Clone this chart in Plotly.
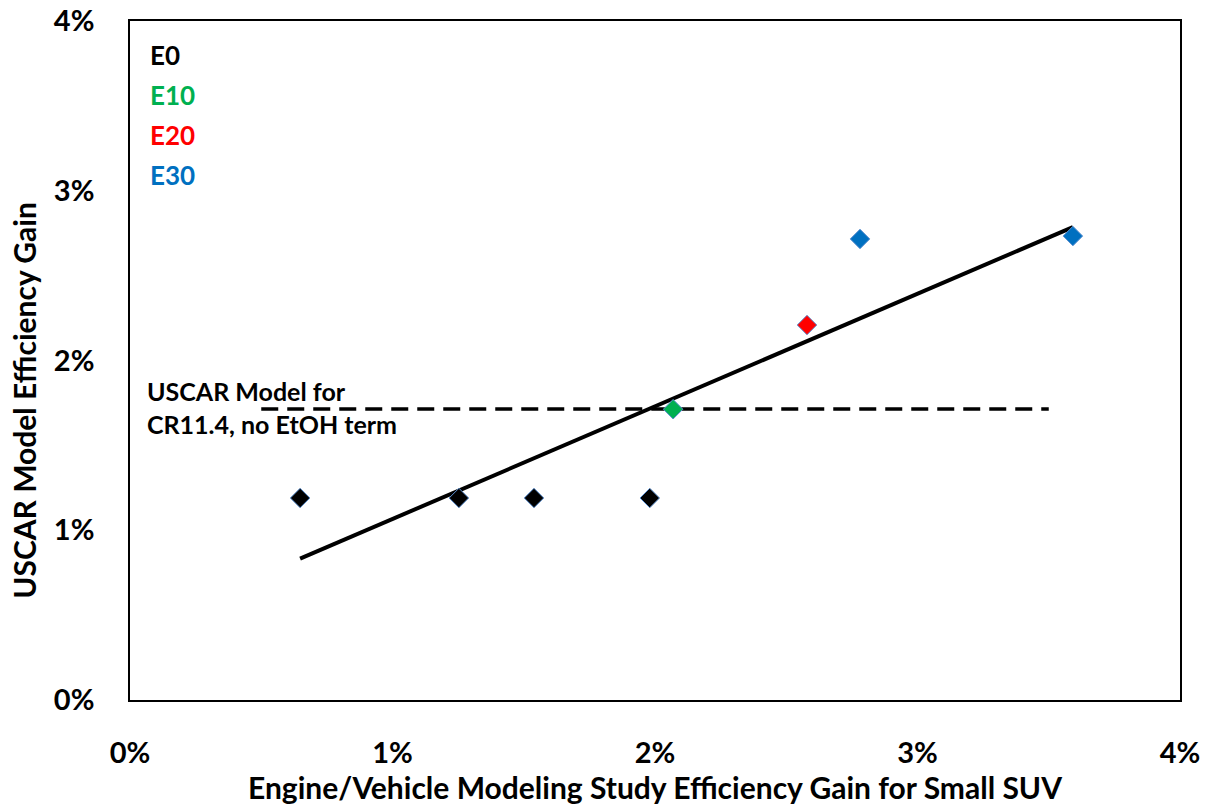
import numpy as np
import plotly.graph_objects as go

# Data (percent)
e0_x = [0.648, 1.253, 1.539, 1.98]
e0_y = [1.19, 1.19, 1.19, 1.19]
e10_x = [2.069]
e10_y = [1.713]
e20_x = [2.579]
e20_y = [2.209]
e30_x = [2.781, 3.592]
e30_y = [2.716, 2.733]
uscar_x = [0.5, 3.5]
uscar_y = [1.715, 1.715]

legend_labels = ["E0", "E10", "E20", "E30"]
legend_colors = ["#000000", "#00B050", "#FF0000", "#0070C0"]
x_ticks = [0, 1, 2, 3, 4]
y_ticks = [0, 1, 2, 3, 4]
x_tick_text = ["0%", "1%", "2%", "3%", "4%"]
y_tick_text = ["0%", "1%", "2%", "3%", "4%"]

all_x = np.array(e0_x + e10_x + e20_x + e30_x)
all_y = np.array(e0_y + e10_y + e20_y + e30_y)
slope, intercept = np.polyfit(all_x, all_y, 1)
trend_x = np.array([all_x.min(), all_x.max()])
trend_y = slope * trend_x + intercept

FONT = "Lato"
fig = go.Figure()

fig.add_trace(go.Scatter(x=uscar_x, y=uscar_y, mode="lines",
                         line=dict(color="black", width=3.5, dash="17px,9px"),
                         showlegend=False, hoverinfo="skip"))
fig.add_trace(go.Scatter(x=trend_x, y=trend_y, mode="lines",
                         line=dict(color="black", width=4),
                         showlegend=False, hoverinfo="skip"))

marker_line = dict(color="#5B8FD0", width=1)
for xs, ys, col in [(e0_x, e0_y, legend_colors[0]), (e10_x, e10_y, legend_colors[1]),
                    (e20_x, e20_y, legend_colors[2]), (e30_x, e30_y, legend_colors[3])]:
    fig.add_trace(go.Scatter(x=xs, y=ys, mode="markers",
                             marker=dict(symbol="diamond", size=15, color=col, line=marker_line),
                             showlegend=False))

for i, (lab, col) in enumerate(zip(legend_labels, legend_colors)):
    fig.add_annotation(xref="paper", yref="paper", x=0.017, y=0.95 - i * 0.059,
                       text=f"<b>{lab}</b>", showarrow=False, xanchor="left", yanchor="middle",
                       font=dict(family=FONT, size=26, color=col))

fig.add_annotation(xref="paper", yref="paper", x=0.014, y=0.431,
                   text="<b>USCAR Model for<br>CR11.4, no EtOH term</b>", showarrow=False,
                   xanchor="left", yanchor="middle", align="left",
                   font=dict(family=FONT, size=25, color="black"))

# y-axis title (placed like the original, slightly below the axis centre)
fig.add_annotation(xref="paper", yref="paper", x=-0.101, y=0.442, textangle=-90,
                   text="<b>USCAR Model Efficiency Gain</b>", showarrow=False,
                   xanchor="center", yanchor="middle",
                   font=dict(family=FONT, size=30, color="black"))

axis_common = dict(showgrid=False, zeroline=False, showline=True, linecolor="black",
                   linewidth=1.5, mirror=True, ticks="outside", tickcolor="rgba(0,0,0,0)",
                   automargin=False,
                   tickfont=dict(family=FONT, size=29, color="black"))

fig.update_xaxes(range=[0, 4], tickvals=x_ticks, ticktext=[f"<b>{t}</b>" for t in x_tick_text],
                 ticklen=26, **axis_common,
                 title=dict(text="<b>Engine/Vehicle Modeling Study Efficiency Gain for Small SUV</b>",
                            font=dict(family=FONT, size=30, color="black"), standoff=18))
fig.update_yaxes(range=[0, 4], tickvals=y_ticks, ticktext=[f"<b>{t}</b>" for t in y_tick_text],
                 ticklen=28, **axis_common)

fig.update_layout(width=1208, height=805, plot_bgcolor="white", paper_bgcolor="white",
                  margin=dict(l=130, r=28, t=21, b=105))

fig.write_html("out.html")
